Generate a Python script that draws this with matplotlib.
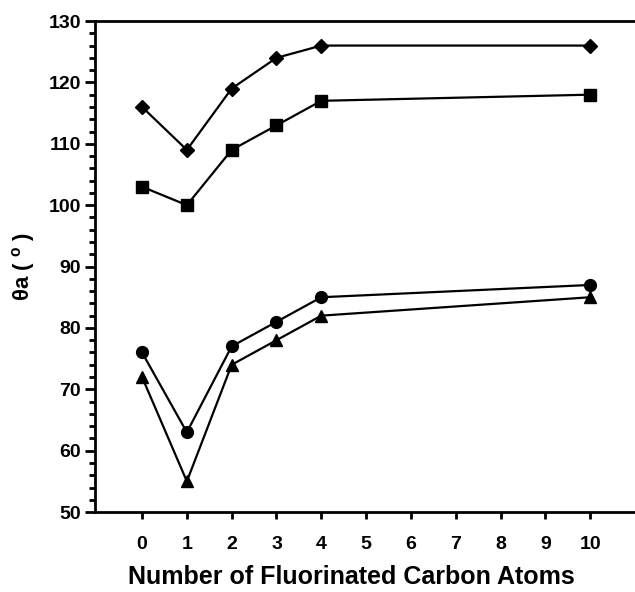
import matplotlib
matplotlib.use("Agg")
import matplotlib.pyplot as plt
from matplotlib.ticker import MultipleLocator

x_labels = ["0", "1", "2", "3", "4", "5", "6", "7", "8", "9", "10"]
carbons = [0, 1, 2, 3, 4, 10]
diamond = [116, 109, 119, 124, 126, 126]
square = [103, 100, 109, 113, 117, 118]
circle = [76, 63, 77, 81, 85, 87]
triangle = [72, 55, 74, 78, 82, 85]

plt.rcParams['font.family'] = ['Liberation Sans', 'DejaVu Sans']

fig = plt.figure(figsize=(6.35, 5.92), dpi=100)
ax = fig.add_axes([0.1496, 0.135, 0.8504, 0.8295])

kw = dict(color='black', lw=1.6, clip_on=False)
ax.plot(carbons, diamond, marker='D', ms=7, **kw)
ax.plot(carbons, square, marker='s', ms=8.5, **kw)
ax.plot(carbons, circle, marker='o', ms=8.5, **kw)
ax.plot(carbons, triangle, marker='^', ms=9, **kw)

ax.set_xlim(-1.05, 11.0)
ax.set_ylim(50, 130)
ax.set_xticks(range(len(x_labels)))
ax.set_xticklabels(x_labels)
ax.yaxis.set_major_locator(MultipleLocator(10))
ax.yaxis.set_minor_locator(MultipleLocator(2))

ax.spines['right'].set_visible(False)
for s in ['left', 'bottom', 'top']:
    ax.spines[s].set_linewidth(2)

ax.tick_params(axis='x', direction='out', length=5, width=2, pad=12, labelsize=14)
ax.tick_params(axis='y', which='major', direction='out', length=7, width=2, pad=3, labelsize=14)
ax.tick_params(axis='y', which='minor', direction='out', length=4, width=2)
for lab in ax.get_xticklabels() + ax.get_yticklabels():
    lab.set_fontweight('bold')

ax.set_xlabel("Number of Fluorinated Carbon Atoms", fontsize=18, fontweight='bold')
ax.xaxis.set_label_coords(0.474, -0.108)
ax.set_ylabel(r"θa ( $^{\mathregular{o}}$ )", fontsize=16, fontweight='bold', labelpad=8)

fig.savefig("out.png", dpi=100)
